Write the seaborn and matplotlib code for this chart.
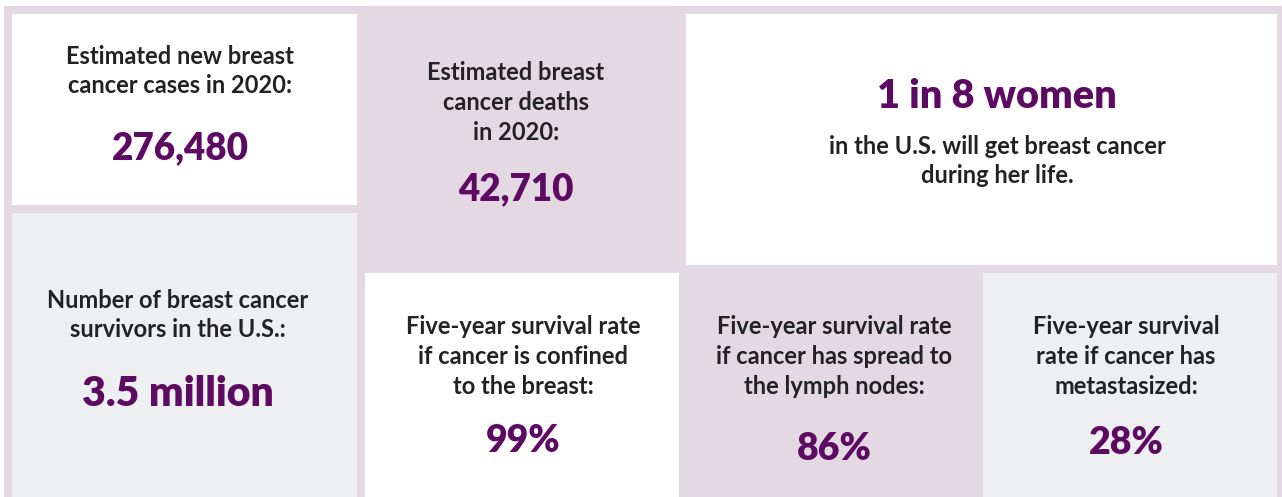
import matplotlib
matplotlib.use("Agg")
import matplotlib.pyplot as plt
from matplotlib.patches import Rectangle
import seaborn as sns

sns.set_theme(style="white")
plt.rcParams['font.family'] = ['Lato', 'DejaVu Sans']

# ---- data ----
labels = [
    "Estimated new breast\ncancer cases in 2020:",
    "Number of breast cancer\nsurvivors in the U.S.:",
    "Estimated breast\ncancer deaths\nin 2020:",
    "in the U.S. will get breast cancer\nduring her life.",
    "Five-year survival rate\nif cancer is confined\nto the breast:",
    "Five-year survival rate\nif cancer has spread to\nthe lymph nodes:",
    "Five-year survival\nrate if cancer has\nmetastasized:",
]
values = ["276,480", "3.5 million", "42,710", "1 in 8 women", "99%", "86%", "28%"]

# ---- layout (pixel space) ----
W, H = 1282, 497
MAUVE = "#e4d9e2"
GREY = "#eeeff1"
WHITE = "#ffffff"
PURPLE = "#5c0a62"
DARK = "#222222"

# boxes: x0, y0, x1, y1, colour
boxes = [
    (12, 14, 357, 205, WHITE),
    (12, 213, 357, 497, GREY),
    (357, 6, 686, 273, MAUVE),
    (686, 14, 1277, 265, WHITE),
    (365, 273, 679, 497, WHITE),
    (679, 273, 983, 497, MAUVE),
    (983, 273, 1277, 497, GREY),
]
# (label centre x, first label line y, value y) per box
label_x = [180, 178, 516, 997, 523, 834, 1126]
label_y = [56, 300, 73, 146, 327, 327, 327]
value_y = [148, 394, 189, 96, 441, 449, 443]
value_size = [26.5, 29.5, 26.5, 28.5, 27, 27, 27]
line_step = 29.5

fig = plt.figure(figsize=(W / 100, H / 100), dpi=100)
ax = fig.add_axes([0, 0, 1, 1])
ax.set_xlim(0, W)
ax.set_ylim(H, 0)
ax.axis("off")

ax.add_patch(Rectangle((4, 6), W - 4, H - 6, color=MAUVE, lw=0))
for (x0, y0, x1, y1, c) in boxes:
    ax.add_patch(Rectangle((x0, y0), x1 - x0, y1 - y0, color=c, lw=0))

for i, (lab, val) in enumerate(zip(labels, values)):
    for j, line in enumerate(lab.split("\n")):
        ax.text(label_x[i], label_y[i] + j * line_step, line, ha="center", va="center",
                fontsize=17, fontweight="bold", color=DARK)
    ax.text(label_x[i], value_y[i], val, ha="center", va="center",
            fontsize=value_size[i], fontweight="heavy", color=PURPLE)

fig.savefig("out.png", dpi=100)
